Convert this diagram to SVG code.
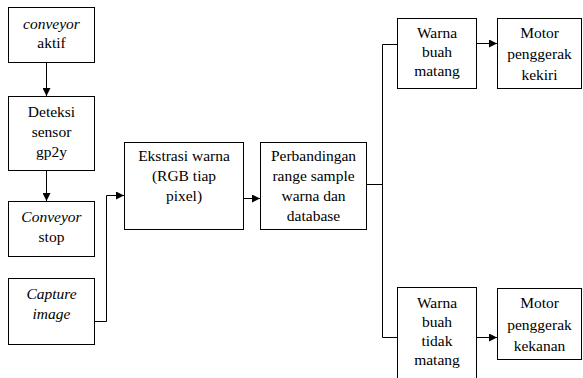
<svg xmlns="http://www.w3.org/2000/svg" width="583" height="378" viewBox="0 0 583 378">
<style>
.box{fill:#fff;stroke:#000;stroke-width:1}
.ln{fill:none;stroke:#000;stroke-width:1}
.t{font-family:'Times New Roman','Liberation Serif','DejaVu Serif','Noto Serif',Times,serif;font-size:15.5px;fill:#000;text-anchor:middle}
.it{font-style:italic}
</style>
<defs>
<marker id="ah" markerUnits="userSpaceOnUse" markerWidth="9" markerHeight="8" refX="8" refY="4" orient="auto">
<path d="M0,0 L8,4 L0,8 Z" fill="#000"/>
</marker>
</defs>
<rect width="583" height="378" fill="#fff"/>
<g id="connectors">
<path class="ln" d="M46.5 62.5 V96" marker-end="url(#ah)"/>
<path class="ln" d="M46.5 170.5 V201" marker-end="url(#ah)"/>
<path class="ln" d="M94.5 321.5 H106.5 V195.5 H124" marker-end="url(#ah)"/>
<path class="ln" d="M243.5 198.5 H260" marker-end="url(#ah)"/>
<path class="ln" d="M366.5 184.5 H382.5"/>
<path class="ln" d="M397.5 44.5 H382.5 V337.5 H397.5"/>
<path class="ln" d="M476.5 43.5 H497" marker-end="url(#ah)"/>
<path class="ln" d="M476.5 337.5 H497" marker-end="url(#ah)"/>
</g>
<g id="n1"><rect class="box" x="8.5" y="7.5" width="86" height="55"/>
<text class="t it" x="51.5" y="29">conveyor</text><text class="t" x="51.5" y="48">aktif</text></g>
<g id="n2"><rect class="box" x="8.5" y="96.5" width="86" height="74"/>
<text class="t" x="51.5" y="117">Deteksi</text><text class="t" x="51.5" y="137">sensor</text><text class="t" x="51.5" y="157">gp2y</text></g>
<g id="n3"><rect class="box" x="8.5" y="201.5" width="86" height="55"/>
<text class="t it" x="51.5" y="222">Conveyor</text><text class="t" x="51.5" y="242">stop</text></g>
<g id="n4"><rect class="box" x="8.5" y="278.5" width="86" height="66"/>
<text class="t it" x="51.5" y="299">Capture</text><text class="t it" x="51.5" y="319">image</text></g>
<g id="n5"><rect class="box" x="124.5" y="142.5" width="119" height="87"/>
<text class="t" x="184" y="161">Ekstrasi warna</text><text class="t" x="184" y="181">(RGB tiap</text><text class="t" x="184" y="201">pixel)</text></g>
<g id="n6"><rect class="box" x="260.5" y="142.5" width="106" height="87"/>
<text class="t" x="313.5" y="161">Perbandingan</text><text class="t" x="313.5" y="181">range sample</text><text class="t" x="313.5" y="201">warna dan</text><text class="t" x="313.5" y="221">database</text></g>
<g id="n7"><rect class="box" x="397.5" y="18.5" width="79" height="70"/>
<text class="t" x="437" y="38">Warna</text><text class="t" x="437" y="57">buah</text><text class="t" x="437" y="76">matang</text></g>
<g id="n8"><rect class="box" x="497.5" y="18.5" width="84" height="70"/>
<text class="t" x="539.5" y="38">Motor</text><text class="t" x="539.5" y="59">penggerak</text><text class="t" x="539.5" y="80">kekiri</text></g>
<g id="n9"><rect class="box" x="397.5" y="287.5" width="79" height="100"/>
<text class="t" x="437" y="308">Warna</text><text class="t" x="437" y="327">buah</text><text class="t" x="437" y="346">tidak</text><text class="t" x="437" y="365">matang</text></g>
<g id="n10"><rect class="box" x="497.5" y="288.5" width="84" height="71"/>
<text class="t" x="539.5" y="308">Motor</text><text class="t" x="539.5" y="330">penggerak</text><text class="t" x="539.5" y="351">kekanan</text></g>
</svg>
